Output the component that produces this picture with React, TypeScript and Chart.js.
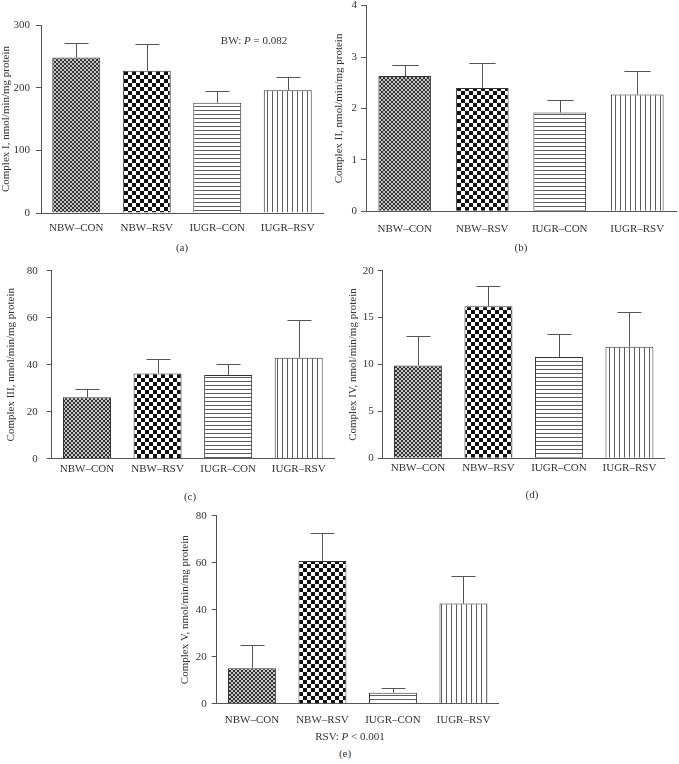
import React, { useEffect, useRef } from "react";
import { Chart, registerables } from "chart.js";

Chart.register(...registerables);

// ---------- data ----------
const categories = ["NBW–CON", "NBW–RSV", "IUGR–CON", "IUGR–RSV"];

const complexI = [248, 227, 176, 196];
const complexIErr = [23, 42, 18, 21];

const complexII = [2.63, 2.4, 1.92, 2.27];
const complexIIErr = [0.21, 0.49, 0.24, 0.45];

const complexIII = [26.1, 36.3, 35.6, 43.0];
const complexIIIErr = [3.6, 6.2, 4.9, 16.0];

const complexIV = [9.9, 16.2, 10.8, 11.9];
const complexIVErr = [3.1, 2.2, 2.5, 3.7];

const complexV = [15.1, 60.7, 4.7, 42.6];
const complexVErr = [9.8, 11.8, 2.1, 11.6];

const yTitles = [
  "Complex I, nmol/min/mg protein",
  "Complex II, nmol/min/mg protein",
  "Complex III, nmol/min/mg protein",
  "Complex IV, nmol/min/mg protein",
  "Complex V, nmol/min/mg protein",
];
const yMaxes = [300, 4, 80, 20, 80];
const ySteps = [100, 1, 20, 5, 20];
const panelLetters = ["(a)", "(b)", "(c)", "(d)", "(e)"];

// ---------- layout ----------
type Box = {
  cl: number; ct: number; w: number; h: number;
  al: number; at: number; ar: number; ab: number;
  yPad: number; xPad: number;
};
const boxes: Box[] = [
  { cl: 0, ct: -5, w: 330, h: 250, al: 41, at: 25, ar: 323, ab: 213, yPad: 6, xPad: 8.5 },
  { cl: 333, ct: -5, w: 346, h: 250, al: 366, at: 4, ar: 676, ab: 211.3, yPad: 4, xPad: 11 },
  { cl: 5, ct: 250, w: 335, h: 235, al: 51.7, at: 270.7, ar: 334, ab: 458.7, yPad: 9, xPad: 3.5 },
  { cl: 347, ct: 250, w: 332, h: 235, al: 382.7, at: 270.7, ar: 664.7, ab: 458.3, yPad: 4, xPad: 3.5 },
  { cl: 179, ct: 500, w: 330, h: 240, al: 216.7, at: 515.7, ar: 498.7, ab: 703.7, yPad: 5, xPad: 9.5 },
];

const FONT = "'Liberation Serif', 'Times New Roman', serif";
const TEXT = "#333";

function makePatterns() {
  const mk = (w: number, h: number, draw: (g: CanvasRenderingContext2D) => void) => {
    const c = document.createElement("canvas");
    c.width = w;
    c.height = h;
    const g = c.getContext("2d")!;
    draw(g);
    return g.createPattern(c, "repeat")!;
  };
  const fine = mk(4, 4, (g) => {
    g.fillStyle = "#c4c4c4";
    g.fillRect(0, 0, 4, 4);
    g.fillStyle = "#333333";
    g.fillRect(0, 0, 2, 2);
    g.fillRect(2, 2, 2, 2);
  });
  const coarse = mk(8, 8, (g) => {
    g.fillStyle = "#ffffff";
    g.fillRect(0, 0, 8, 8);
    g.fillStyle = "#111111";
    g.fillRect(0, 0, 4, 4);
    g.fillRect(4, 4, 4, 4);
  });
  const hlines = mk(4, 4, (g) => {
    g.fillStyle = "#ffffff";
    g.fillRect(0, 0, 4, 4);
    g.fillStyle = "#5e5e5e";
    g.fillRect(0, 3, 4, 1);
  });
  const vlines = mk(5, 5, (g) => {
    g.fillStyle = "#ffffff";
    g.fillRect(0, 0, 5, 5);
    g.fillStyle = "#5e5e5e";
    g.fillRect(2, 0, 1, 5);
  });
  return [fine, coarse, hlines, vlines];
}

const errorBarPlugin = {
  id: "errorBars",
  afterDatasetsDraw(chart: any, _args: any, opts: any) {
    const meta = chart.getDatasetMeta(0);
    const ys = chart.scales.y;
    const errs: number[] = opts.errors || [];
    const vals: number[] = chart.data.datasets[0].data;
    const ctx = chart.ctx;
    ctx.save();
    ctx.strokeStyle = "#555";
    ctx.lineWidth = 1;
    meta.data.forEach((bar: any, i: number) => {
      const top = Math.round(ys.getPixelForValue(vals[i] + errs[i])) + 0.5;
      const x = Math.round(bar.x) + 0.5;
      const half = bar.width / 4;
      ctx.beginPath();
      ctx.moveTo(x, bar.y);
      ctx.lineTo(x, top);
      ctx.moveTo(x - half, top);
      ctx.lineTo(x + half, top);
      ctx.stroke();
    });
    ctx.restore();
  },
};

const seriesList = [complexI, complexII, complexIII, complexIV, complexV];
const errList = [complexIErr, complexIIErr, complexIIIErr, complexIVErr, complexVErr];

export default function App() {
  const refs = [
    useRef<HTMLCanvasElement>(null),
    useRef<HTMLCanvasElement>(null),
    useRef<HTMLCanvasElement>(null),
    useRef<HTMLCanvasElement>(null),
    useRef<HTMLCanvasElement>(null),
  ];

  useEffect(() => {
    const pats = makePatterns();
    const charts: Chart[] = [];
    boxes.forEach((b, idx) => {
      const cv = refs[idx].current;
      if (!cv) return;
      const yW = b.al - b.cl;
      const xH = b.ct + b.h - b.ab;
      const chart = new Chart(cv, {
        type: "bar",
        data: {
          labels: categories,
          datasets: [
            {
              data: seriesList[idx],
              backgroundColor: pats as any,
              borderColor: "#333",
              borderWidth: 1,
              categoryPercentage: 1,
              barPercentage: 0.68,
            },
          ],
        },
        options: {
          responsive: false,
          animation: false,
          devicePixelRatio: 1,
          layout: {
            padding: { left: 0, top: b.at - b.ct, right: b.cl + b.w - b.ar, bottom: 0 },
          },
          plugins: {
            legend: { display: false },
            tooltip: { enabled: false },
            errorBars: { errors: errList[idx] },
          } as any,
          scales: {
            x: {
              grid: { display: true, drawOnChartArea: false, drawTicks: false },
              border: { display: true, color: "#555", width: 1 },
              ticks: { color: TEXT, font: { family: FONT, size: 11 }, padding: b.xPad, maxRotation: 0 },
              afterFit: (s: any) => {
                s.height = xH;
              },
            },
            y: {
              min: 0,
              max: yMaxes[idx],
              grid: { display: true, drawOnChartArea: false, drawTicks: true, tickLength: 5, color: "#555" },
              border: { display: true, color: "#555", width: 1 },
              ticks: { stepSize: ySteps[idx], color: TEXT, font: { family: FONT, size: 11 }, padding: b.yPad },
              title: {
                display: true,
                text: yTitles[idx],
                color: TEXT,
                font: { family: FONT, size: 11 },
                padding: { top: 0, bottom: 0 },
              },
              afterFit: (s: any) => {
                s.width = yW;
              },
            },
          },
        },
        plugins: [errorBarPlugin],
      } as any);
      charts.push(chart);
    });
    return () => charts.forEach((c) => c.destroy());
  }, []);

  const labelPos = [
    { x: 182, y: 247 },
    { x: 521, y: 247 },
    { x: 190, y: 496 },
    { x: 532, y: 494 },
    { x: 345, y: 753 },
  ];

  const txt = (x: number, y: number, content: React.ReactNode, key: string) => (
    <div
      key={key}
      style={{
        position: "absolute",
        left: x,
        top: y,
        transform: "translate(-50%, -50%)",
        fontFamily: FONT,
        fontSize: 11,
        color: TEXT,
        whiteSpace: "nowrap",
        lineHeight: "13px",
      }}
    >
      {content}
    </div>
  );

  return (
    <div
      style={{
        position: "absolute",
        left: 0,
        top: 0,
        width: 679,
        height: 764,
        background: "#fff",
        overflow: "hidden",
      }}
    >
      {boxes.map((b, i) => (
        <canvas
          key={i}
          ref={refs[i]}
          width={b.w}
          height={b.h}
          style={{ position: "absolute", left: b.cl, top: b.ct, width: b.w, height: b.h }}
        />
      ))}
      {panelLetters.map((l, i) => txt(labelPos[i].x, labelPos[i].y, l, "l" + i))}
      {txt(254, 40, <span>BW: <i>P</i> = 0.082</span>, "bw")}
      {txt(350, 736, <span>RSV: <i>P</i> &lt; 0.001</span>, "rsv")}
    </div>
  );
}
